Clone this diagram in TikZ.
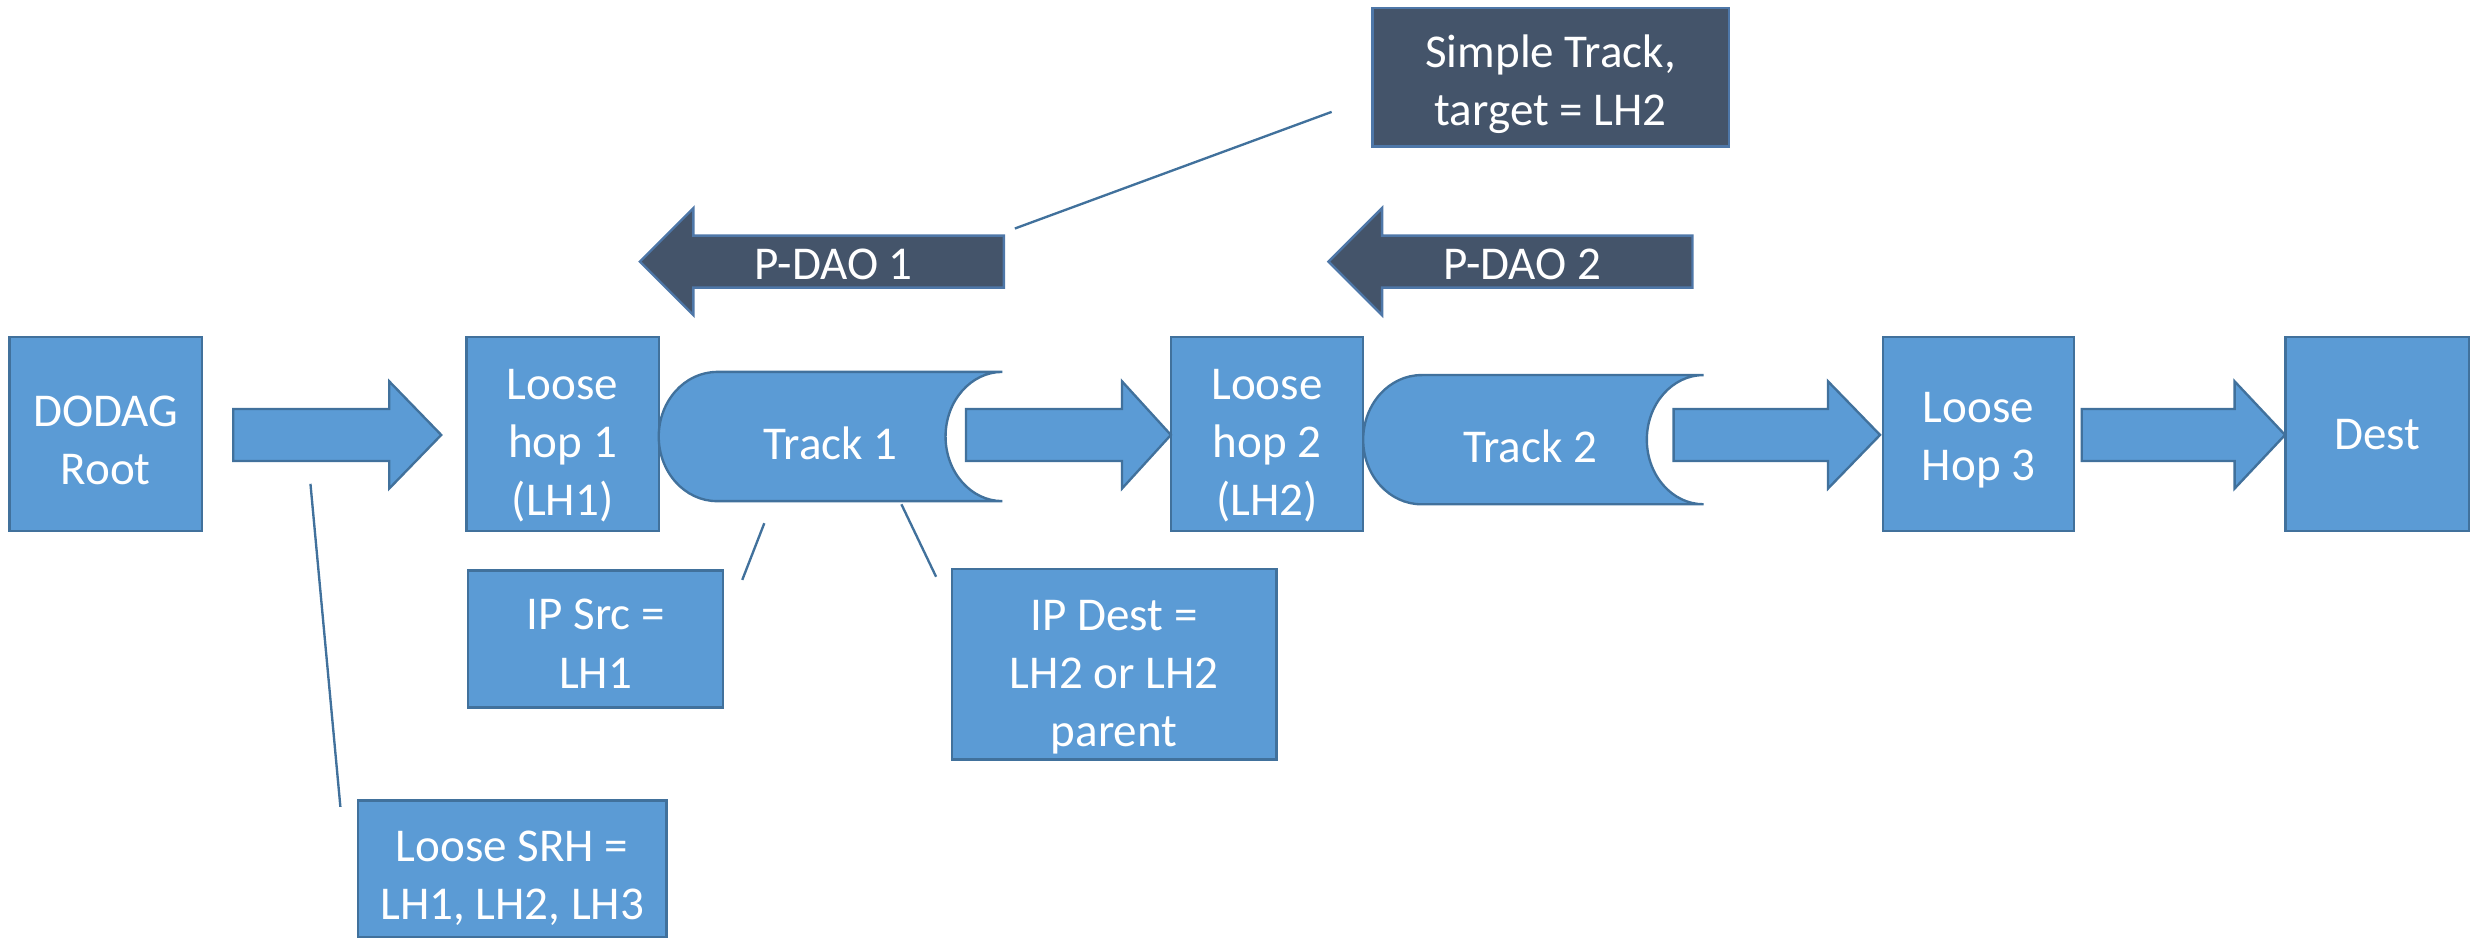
\documentclass[tikz,border=0pt]{standalone}
\usepackage{fontspec}
\setmainfont{Carlito}
\usepackage{tikz}
\usetikzlibrary{calc}
\definecolor{boxblue}{HTML}{5B9BD5}
\definecolor{boxedge}{HTML}{41719C}
\definecolor{slate}{HTML}{44546A}
\definecolor{slateedge}{HTML}{4E77A8}
% fat arrow: tail x, tip x, head length (signed), mid y, style
\newcommand{\fatarrow}[5]
{
\draw[#5] (#1,#4-16.5) -- ({#2-(#3)},#4-16.5) -- ({#2-(#3)},#4-34) -- (#2,#4)
  -- ({#2-(#3)},#4+34) -- ({#2-(#3)},#4+16.5) -- (#1,#4+16.5) -- cycle;
}
% track pipe: left x, right x, mid y
\newcommand{\trackpipe}[3]
{
\draw[pipe] (#1+37,#3-41) -- (#2,#3-41)
  arc[start angle=90,end angle=270,x radius=0.72cm,y radius=0.82cm]
  -- (#1+37,#3+41)
  arc[start angle=270,end angle=90,x radius=0.74cm,y radius=0.82cm] -- cycle;
}
\tikzstyle{hop}=[rectangle, draw=boxedge, fill=boxblue, line width=0.85pt, inner sep=0pt]
\tikzstyle{note}=[hop, fill=slate, draw=slateedge]
\tikzstyle{lbl}=[text=white, align=center, font=\fontsize{17}{21}\selectfont]
\tikzstyle{blockarr}=[draw=boxedge, fill=boxblue, line width=0.85pt]
\tikzstyle{daoarr}=[draw=slateedge, fill=slate, line width=0.85pt]
\tikzstyle{pipe}=[draw=boxedge, fill=boxblue, line width=0.85pt]
\tikzstyle{callout}=[draw=boxedge, line width=0.85pt]

\begin{document}
\begin{tikzpicture}[x=0.02cm, y=-0.02cm]
\useasboundingbox (0,0) rectangle (1568,595);
% hops
\node[hop, minimum width=2.44cm, minimum height=2.46cm] (root) at (67,275.5) {};
\node[hop, minimum width=2.44cm, minimum height=2.46cm] (lh1) at (357,275.5) {};
\node[hop, minimum width=2.44cm, minimum height=2.46cm] (lh2) at (804,275.5) {};
\node[hop, minimum width=2.42cm, minimum height=2.46cm] (lh3) at (1255.5,275.5) {};
\node[hop, minimum width=2.33cm, minimum height=2.46cm] (dest) at (1508.5,275.5) {};
\node[lbl] (roottext) at ($(root)+(0,4)$) {DODAG\\Root};
\node[lbl] (lh1text) at ($(lh1)+(0,7.5)$) {Loose\\hop 1\\(LH1)};
\node[lbl] (lh2text) at ($(lh2)+(0,7.5)$) {Loose\\hop 2\\(LH2)};
\node[lbl] (lh3text) at ($(lh3)+(0,4)$) {Loose\\Hop 3};
\node[lbl] (desttext) at (dest) {Dest};
% tracks
\trackpipe{418}{636}{277}
\trackpipe{865}{1081}{279}
\node[lbl] (track1) at (527,281) {Track 1};
\node[lbl] (track2) at (971,283) {Track 2};
\fatarrow{148}{280}{33}{276}{blockarr}
\fatarrow{613}{743}{31}{276}{blockarr}
\fatarrow{1062}{1193}{33}{276}{blockarr}
\fatarrow{1321}{1450}{32}{276}{blockarr}
% P-DAOs
\fatarrow{637}{406}{-34}{166}{daoarr}
\fatarrow{1074}{843}{-34}{166}{daoarr}
\node[lbl] (pdao1) at (529,168) {P-DAO 1};
\node[lbl] (pdao2) at (966,168) {P-DAO 2};
% notes
\node[note, minimum width=4.52cm, minimum height=1.76cm] (simple) at (984,49) {};
\node[hop, minimum width=3.24cm, minimum height=1.74cm] (ipsrc) at (378,405.5) {};
\node[hop, minimum width=4.12cm, minimum height=2.42cm] (ipdest) at (707,421.5) {};
\node[hop, minimum width=3.92cm, minimum height=1.74cm] (srh) at (325,551.5) {};
\node[lbl] (simpletext) at ($(simple)+(0,4.5)$) {Simple Track,\\target = LH2};
\node[lbl] (ipsrctext) at ($(ipsrc)+(0,3)$) {IP Src =\\LH1};
\node[lbl] (ipdesttext) at ($(ipdest)+(0,8)$) {IP Dest =\\LH2 or LH2\\parent};
\node[lbl] (srhtext) at ($(srh)+(0,6)$) {Loose SRH =\\LH1, LH2, LH3};
\coordinate (simpletail) at (845,71);
\coordinate (simplehead) at (644,145);
\coordinate (srctail) at (485,332);
\coordinate (srchead) at (471,368);
\coordinate (desttail) at (572,320);
\coordinate (desthead) at (594,366);
\coordinate (srhtail) at (197,307);
\coordinate (srhhead) at (216,512);
\draw[callout] (simpletail) -- (simplehead);
\draw[callout] (srctail) -- (srchead);
\draw[callout] (desttail) -- (desthead);
\draw[callout] (srhtail) -- (srhhead);
\end{tikzpicture}
\end{document}
